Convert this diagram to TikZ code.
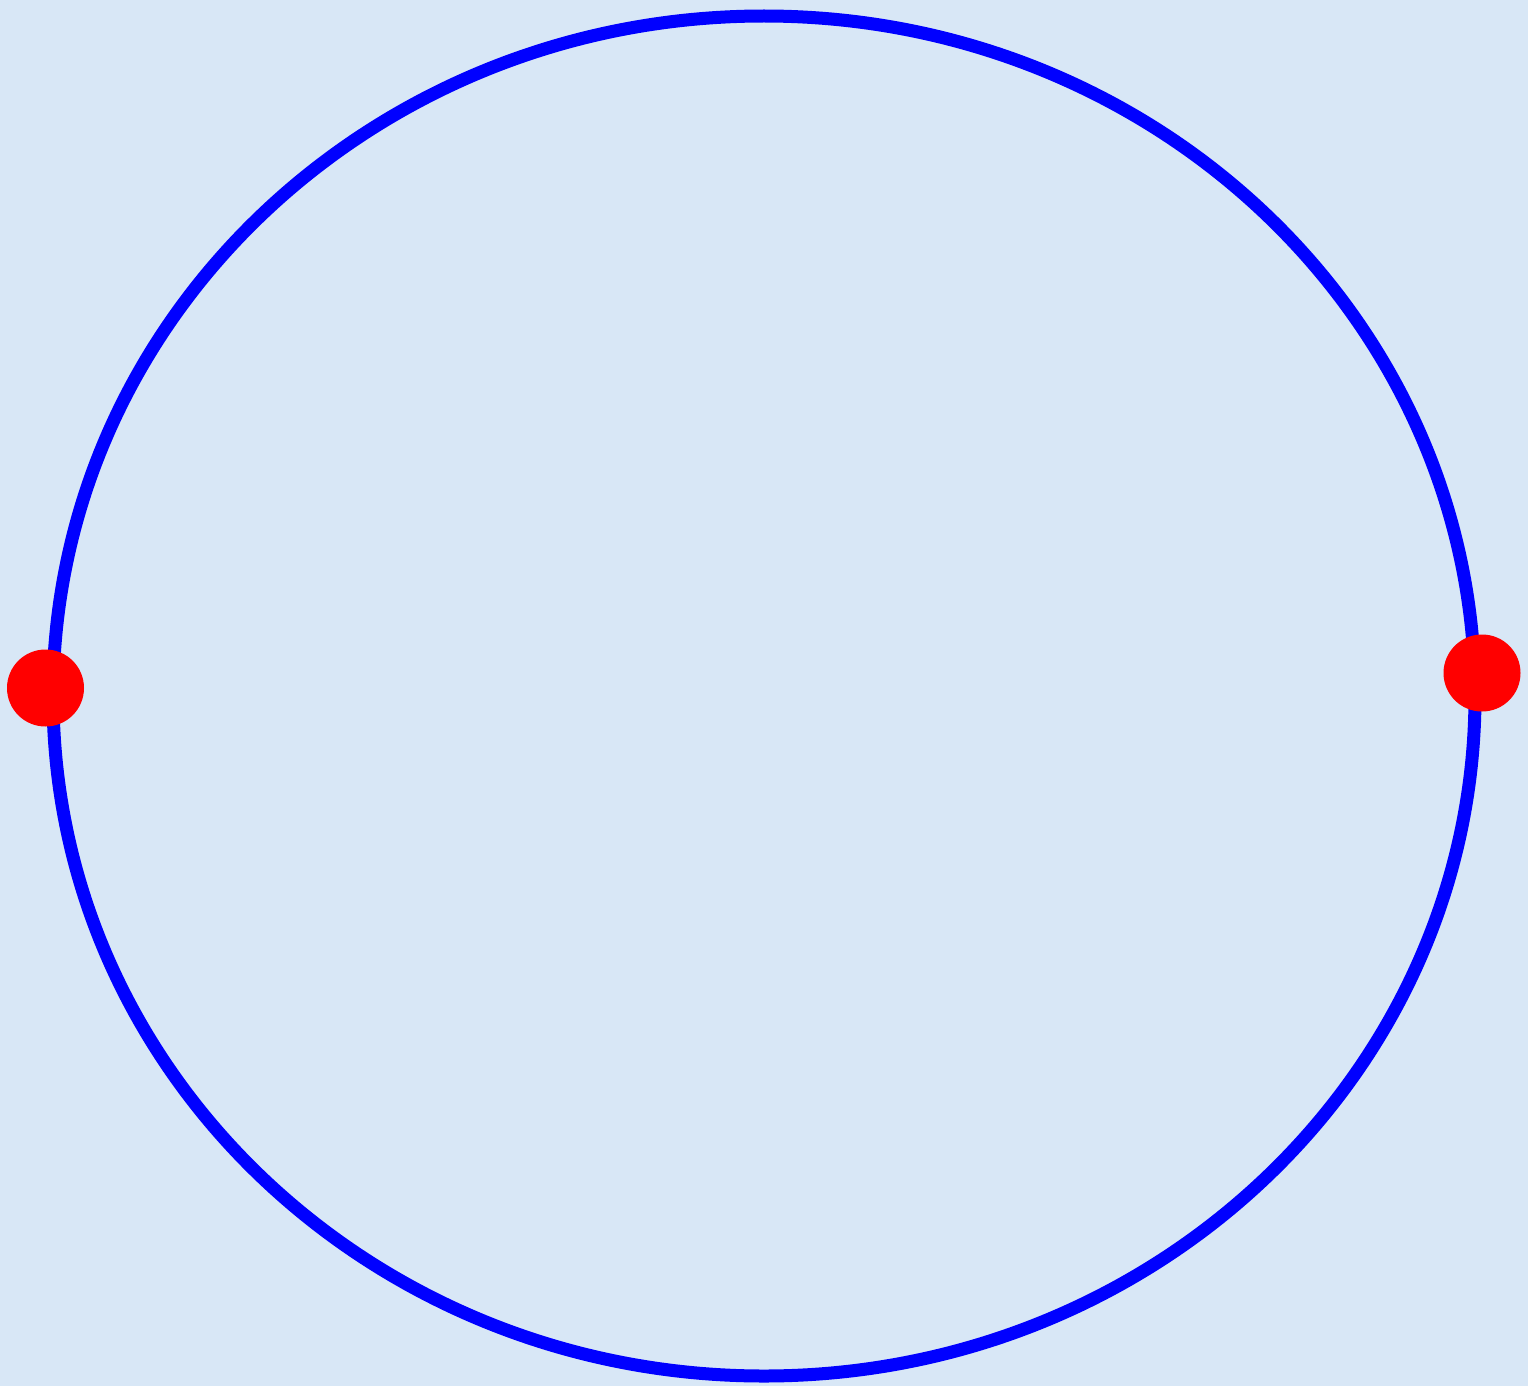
\documentclass[tikz,border=0pt]{standalone}
\definecolor{bgblue}{RGB}{216,231,246}
\definecolor{ringblue}{RGB}{0,0,255}
\definecolor{dotred}{RGB}{255,0,0}
\begin{document}
\begin{tikzpicture}[x=1pt,y=-1pt,
  ring/.style={draw=ringblue,line width=13pt},
  reddot/.style={circle,fill=dotred,minimum size=77pt,inner sep=0pt}]
\fill[bgblue] (0,0) rectangle (1528,1386);
\useasboundingbox (0,0) rectangle (1528,1386);
\draw[ring] (764,696) ellipse [x radius=711, y radius=680];
\node[reddot] (left) at (45.5,688) {};
\node[reddot] (right) at (1482,673) {};
\end{tikzpicture}
\end{document}
